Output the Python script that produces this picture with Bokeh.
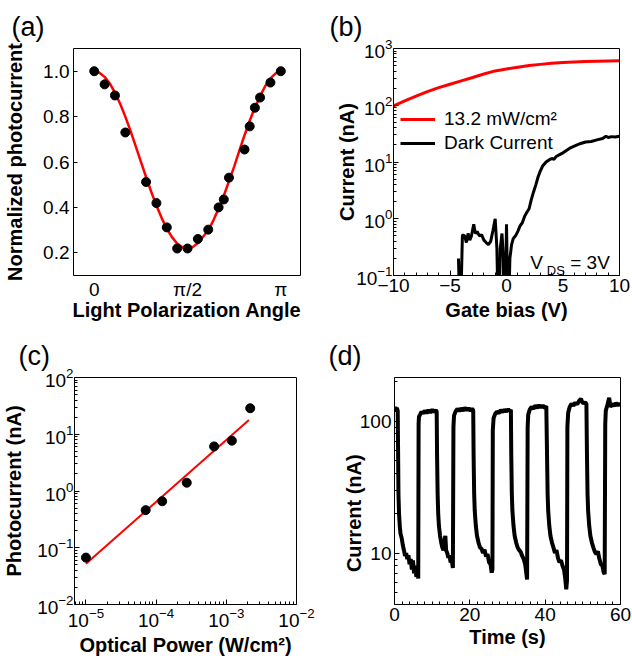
import math
from bokeh.plotting import figure
from bokeh.models import Label, Legend, LegendItem, FixedTicker, BasicTickFormatter, PrintfTickFormatter
from bokeh.layouts import column, row
from bokeh.embed import file_html
from bokeh.resources import INLINE

FONT = "Liberation Sans"

# ---------------- (a) polarization dependence ----------------
a_angle = [0, 10, 20, 30, 50, 60, 70, 80, 90, 100, 110, 120, 125, 130, 145, 150, 155, 160, 170, 180]
a_norm = [1.00, 0.942, 0.893, 0.730, 0.512, 0.419, 0.312, 0.219, 0.219, 0.261, 0.302, 0.400,
          0.435, 0.531, 0.655, 0.757, 0.839, 0.884, 0.950, 1.00]
a_fit_angle = [0, 5, 10, 15, 20, 25, 30, 35, 40, 45, 50, 55, 60, 65, 70, 75, 80, 85, 90,
               95, 100, 105, 110, 115, 120, 125, 130, 135, 140, 145, 150, 155, 160, 165, 170, 175, 180, 182]
a_fit_norm = [1.000, 0.993, 0.975, 0.946, 0.906, 0.857, 0.800, 0.737, 0.670, 0.602, 0.534, 0.469,
              0.408, 0.354, 0.307, 0.269, 0.241, 0.224, 0.219, 0.225, 0.243, 0.271, 0.300, 0.343,
              0.395, 0.452, 0.515, 0.580, 0.650, 0.718, 0.782, 0.840, 0.890, 0.935, 0.968, 0.990,
              1.000, 1.000]
a_tick_vals = [0, 90, 180]
a_tick_text = ["0", "π/2", "π"]

# ---------------- (b) transfer curves ----------------
b_gate = [-10, -9, -8, -7, -6, -5, -4, -3, -2, -1, 0, 1, 2, 3, 4, 5, 6, 7, 8, 9, 10]
b_light = [97, 119, 145, 174, 204, 234, 269, 309, 355, 403, 437, 468, 501, 525, 550, 565,
           578, 589, 597, 604, 608]
b_dark_v = [-4.25, -4.15, -4.05, -3.9, -3.7, -3.55, -3.4, -3.25, -3.1, -2.9, -2.75, -2.6, -2.4,
            -2.2, -2.0, -1.8, -1.6, -1.4, -1.2, -1.0, -0.85, -0.75, -0.65, -0.55, -0.4, -0.3,
            -0.2, -0.1, 0.0, 0.1, 0.2, 0.3, 0.45, 0.6, 0.8, 1.0, 1.2, 1.4, 1.6, 1.8, 2.0, 2.2,
            2.4, 2.6, 2.8, 3.0, 3.2, 3.5, 3.8, 4.0, 4.2, 4.4, 4.7, 5.0, 5.3, 5.6, 6.0, 6.5, 7.0,
            7.5, 8.0, 8.5, 8.8, 9.0, 9.3, 9.6, 10.0]
b_dark_i = [0.20, 0.03, 0.03, 0.52, 0.50, 0.38, 0.55, 0.42, 0.50, 0.80, 0.55, 0.60, 0.50,
            0.52, 0.42, 0.38, 0.35, 0.40, 0.62, 1.00, 0.30, 0.03, 0.03, 0.30, 0.55, 0.25,
            0.03, 0.03, 0.80, 0.05, 0.03, 0.20, 0.35, 0.45, 0.50, 0.60, 0.75, 0.85, 1.10, 1.30,
            1.50, 2.20, 3.00, 4.00, 5.50, 7.00, 8.50, 10.0, 11.0, 11.5, 11.2, 12.5, 13.5, 14.5,
            16.0, 17.5, 19.0, 21.0, 22.5, 23.0, 24.5, 26.0, 28.5, 27.0, 28.0, 27.5, 28.5]

# ---------------- (c) power dependence ----------------
c_power = [1.0e-5, 7.1e-5, 1.22e-4, 2.73e-4, 6.7e-4, 1.2e-3, 2.19e-3]
c_photo = [0.067, 0.46, 0.66, 1.40, 6.1, 7.7, 28.7]
c_fit_power = [1.0e-5, 2.1e-3]
c_fit_photo = [0.052, 17.9]

# ---------------- (d) time response ----------------
d_time = [0, 0.2, 0.4, 0.6, 0.85,
          0.95, 1.05, 1.2, 1.4, 1.6, 1.9, 2.2, 2.5, 2.8, 3.1, 3.4, 3.7, 4.0, 4.3, 4.6, 4.9, 5.2, 5.5, 5.8, 6.1, 6.3,
          6.4, 6.5, 6.8, 7.2, 7.6, 8.0, 8.5, 9.0, 9.5, 10.0, 10.5, 11.0, 11.2,
          11.3, 11.45, 11.6, 11.8, 12.1, 12.4, 12.7, 13.0, 13.3, 13.5, 13.7, 14.0, 14.3, 14.6, 14.9, 15.2, 15.5,
          15.65, 15.8, 16.2, 16.7, 17.2, 17.7, 18.2, 18.7, 19.2, 19.7, 20.2, 20.6, 20.9,
          21.0, 21.15, 21.3, 21.6, 21.9, 22.3, 22.7, 23.1, 23.5, 23.9, 24.3, 24.7, 25.1, 25.5, 25.8, 26.0,
          26.1, 26.3, 26.7, 27.2, 27.7, 28.2, 28.7, 29.2, 29.7, 30.2, 30.6, 30.9,
          31.0, 31.15, 31.3, 31.6, 31.9, 32.3, 32.7, 33.1, 33.5, 33.9, 34.3, 34.7, 35.0, 35.2,
          35.35, 35.5, 35.9, 36.4, 36.9, 37.4, 37.9, 38.4, 38.9, 39.4, 39.9, 40.3,
          40.5, 40.65, 40.8, 41.1, 41.4, 41.8, 42.2, 42.6, 43.0, 43.4, 43.8, 44.2, 44.6, 45.0, 45.3, 45.6, 45.8,
          45.9, 46.1, 46.5, 47.0, 47.5, 48.0, 48.5, 49.0, 49.5, 49.8, 50.2, 50.6, 50.95,
          51.1, 51.25, 51.4, 51.7, 52.0, 52.4, 52.8, 53.2, 53.6, 54.0, 54.4, 54.8, 55.2, 55.5, 55.8,
          55.95, 56.1, 56.5, 57.0, 57.3, 57.8, 58.3, 58.8, 59.3, 59.7, 60.0]
d_current = [122, 128, 118, 126, 120,
             60, 28, 20, 16, 14, 13, 11.5, 10.5, 9.5, 10.0, 9.0, 9.6, 8.2, 9.0, 7.5, 8.8, 7.0, 8.0, 6.6, 7.4, 6.4,
             95, 108, 112, 118, 114, 120, 115, 121, 116, 122, 117, 121, 118,
             55, 28, 20, 16, 13.5, 12, 11, 10.5, 12.5, 13.5, 10.5, 10, 9.2, 9.6, 8.5, 8.8, 7.7,
             90, 110, 118, 124, 119, 125, 120, 126, 121, 125, 120, 124, 121,
             55, 28, 21, 16, 13.5, 12, 11, 10.8, 10, 10.6, 9.4, 9.8, 8.5, 8.2, 7.1, 7.5,
             85, 105, 113, 118, 115, 121, 117, 122, 118, 123, 119, 122,
             55, 28, 21, 16, 13.5, 12, 11, 10.5, 10.2, 9.5, 9.0, 8.2, 7.0, 6.3,
             90, 112, 122, 128, 124, 131, 126, 132, 127, 131, 126, 130,
             55, 28, 21, 16, 13.5, 12, 11, 10, 10.5, 9.2, 8.5, 8.8, 8.0, 7.5, 6.5, 5.3, 6.2,
             90, 115, 128, 135, 131, 138, 134, 142, 148, 140, 136, 139, 135,
             55, 28, 21, 16, 13.5, 12, 11, 10.2, 9.8, 10.3, 9.0, 8.2, 8.0, 7.2, 6.9,
             95, 120, 132, 150, 128, 135, 130, 137, 131, 136, 132]


def style(p, tick_size="19px", title_size="20px"):
    p.grid.visible = False
    p.outline_line_color = "black"
    p.outline_line_alpha = 1.0
    p.outline_line_width = 1
    p.background_fill_color = "white"
    p.border_fill_color = "white"
    for ax in p.axis:
        ax.axis_line_color = None
        ax.major_tick_in = 5
        ax.major_tick_out = 0
        ax.minor_tick_in = 3
        ax.minor_tick_out = 0
        ax.major_tick_line_color = "black"
        ax.minor_tick_line_color = "black"
        ax.major_label_text_font = FONT
        ax.major_label_text_font_size = tick_size
        ax.major_label_text_color = "black"
        ax.axis_label_text_font = FONT
        ax.axis_label_text_font_style = "bold"
        ax.axis_label_text_font_size = title_size
        ax.axis_label_text_color = "black"
        ax.major_label_standoff = 3


def panel_title(p, txt, offset):
    p.title.text = txt
    p.title.text_font = FONT
    p.title.text_font_size = "27px"
    p.title.text_font_style = "normal"
    p.title.text_color = "black"
    p.title.align = "left"
    p.title.vertical_align = "top"
    p.title.offset = offset
    p.title.standoff = 10


def black_label(p, **kw):
    p.add_layout(Label(text_font=FONT, text_color="black", text_baseline="alphabetic", **kw))


# ---------- (a)
pa = figure(width=316, height=330, x_range=(-20, 199), y_range=(0.1, 1.1),
            output_backend="svg", toolbar_location=None,
            min_border_left=73, min_border_right=16, min_border_top=47, min_border_bottom=55)
pa.line(a_fit_angle, a_fit_norm, line_color="red", line_width=2.5)
pa.scatter(a_angle, a_norm, size=9, fill_color="black", line_color="black")
style(pa)
pa.xaxis.ticker = FixedTicker(ticks=a_tick_vals)
pa.xaxis.major_label_overrides = dict(zip(a_tick_vals, a_tick_text))
pa.xaxis.major_tick_in = 0
pa.yaxis.ticker = FixedTicker(ticks=[0.2, 0.4, 0.6, 0.8, 1.0])
pa.yaxis.formatter = PrintfTickFormatter(format="%.1f")
pa.yaxis.major_tick_in = 4
pa.yaxis.major_label_standoff = 4
pa.xaxis.axis_label = "Light Polarization Angle"
pa.yaxis.axis_label = "Normalized photocurrent"
pa.yaxis.axis_label_standoff = 14
pa.xaxis.axis_label_standoff = -4
panel_title(pa, "(a)", -62)

# ---------- (b)
pb = figure(width=316, height=330, x_range=(-10, 10), y_range=(0.1, 1000), y_axis_type="log",
            output_backend="svg", toolbar_location=None,
            min_border_left=77, min_border_right=13, min_border_top=48, min_border_bottom=54)
r_light = pb.line(b_gate, b_light, line_color="red", line_width=3)
r_dark = pb.line(b_dark_v, b_dark_i, line_color="black", line_width=3)
style(pb)
pb.xaxis.ticker = FixedTicker(ticks=[-10, -5, 0, 5, 10], minor_ticks=list(range(-10, 11)))
pb.yaxis.ticker = FixedTicker(ticks=[0.1, 1, 10, 100, 1000],
                              minor_ticks=[m * 10.0 ** e for e in range(-1, 3) for m in range(2, 10)])
pb.yaxis.major_label_standoff = 1
pb.xaxis.axis_label = "Gate bias (V)"
pb.yaxis.axis_label = "Current (nA)"
pb.yaxis.axis_label_standoff = -5
pb.xaxis.axis_label_standoff = 4
leg = Legend(items=[LegendItem(label="13.2 mW/cm²", renderers=[r_light]),
                    LegendItem(label="Dark Current", renderers=[r_dark])],
             location=(7, 121), padding=0, margin=0, spacing=2, label_height=20, glyph_height=20,
             glyph_width=35, label_standoff=9, label_text_font=FONT, label_text_font_size="19px",
             label_text_color="black", background_fill_alpha=0, border_line_color=None)
pb.add_layout(leg)
black_label(pb, x=2.1, y=0.1706, text="V", text_font_size="19px")
black_label(pb, x=3.57, y=0.125, text="DS", text_font_size="13px")
black_label(pb, x=5.64, y=0.1706, text="= 3V", text_font_size="19px")
panel_title(pb, "(b)", -64)

# ---------- (c)
pc = figure(width=316, height=338, x_range=(10 ** -5.163, 1e-2), y_range=(0.01, 100),
            x_axis_type="log", y_axis_type="log",
            output_backend="svg", toolbar_location=None,
            min_border_left=68, min_border_right=20, min_border_top=47, min_border_bottom=62)
pc.line(c_fit_power, c_fit_photo, line_color="red", line_width=2)
pc.scatter(c_power, c_photo, size=9, fill_color="black", line_color="black")
style(pc)
pc.xaxis.ticker = FixedTicker(ticks=[1e-5, 1e-4, 1e-3, 1e-2],
                              minor_ticks=[m * 10.0 ** e for e in range(-6, -2) for m in range(2, 10)])
pc.yaxis.ticker = FixedTicker(ticks=[0.01, 0.1, 1, 10, 100],
                              minor_ticks=[m * 10.0 ** e for e in range(-2, 2) for m in range(2, 10)])
pc.yaxis.major_label_standoff = 1
pc.xaxis.axis_label = "Optical Power (W/cm²)"
pc.yaxis.axis_label = "Photocurrent (nA)"
pc.yaxis.axis_label_standoff = 9
pc.xaxis.axis_label_standoff = 4
panel_title(pc, "(c)", -56)

# ---------- (d)
pd_ = figure(width=316, height=338, x_range=(0, 60), y_range=(4.07, 214), y_axis_type="log",
             output_backend="svg", toolbar_location=None,
             min_border_left=78, min_border_right=12, min_border_top=46, min_border_bottom=64)
pd_.line(d_time, d_current, line_color="black", line_width=4)
style(pd_)
pd_.xaxis.ticker = FixedTicker(ticks=[0, 20, 40, 60], minor_ticks=list(range(0, 61, 2)))
pd_.yaxis.ticker = FixedTicker(ticks=[10, 100],
                               minor_ticks=[m * 10.0 ** e for e in range(0, 3) for m in range(2, 10)])
pd_.yaxis.formatter = BasicTickFormatter()
pd_.xaxis.axis_label = "Time (s)"
pd_.xaxis.axis_label_standoff = 2
pd_.yaxis.axis_label = "Current (nA)" + "\u00a0" * 8
pd_.yaxis.axis_label_standoff = -8
panel_title(pd_, "(d)", -66)

layout = column(row(pa, pb), row(pc, pd_))
open("out.html", "w").write(file_html(layout, INLINE))
